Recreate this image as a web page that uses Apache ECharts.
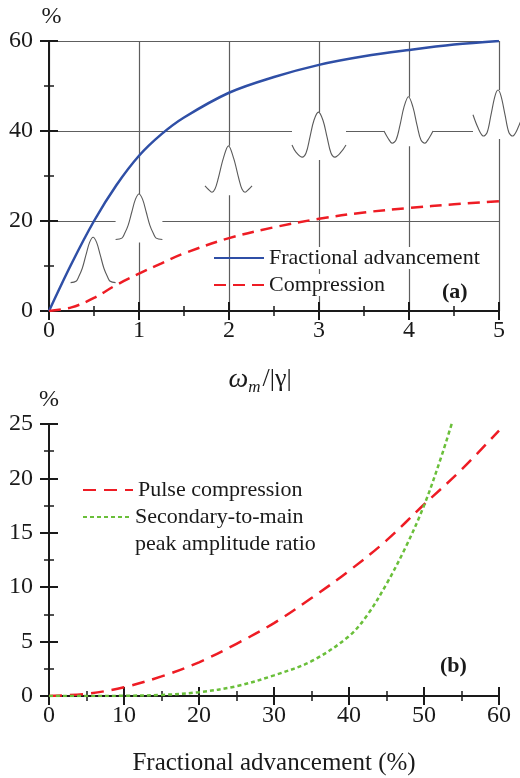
<!DOCTYPE html>
<html>
<head>
<meta charset="utf-8">
<script src="https://cdn.jsdelivr.net/npm/echarts@6/dist/echarts.min.js"></script>
<style>html,body{margin:0;padding:0;background:#fff}#c{width:520px;height:778px}</style>
</head>
<body>
<div id="c"></div>
<script>
// ---- Panel (a) data ----
const xTop = [0, 0.25, 0.5, 0.75, 1, 1.25, 1.5, 2, 2.5, 3, 3.5, 4, 4.5, 5];
const fracAdvance = [0, 10.5, 20, 28, 34.5, 39.3, 43, 48.5, 52, 54.7, 56.6, 58, 59.2, 60];
const compressionA = [0, 0.8, 2.9, 5.8, 8.3, 10.6, 12.8, 16.2, 18.6, 20.5, 21.9, 22.9, 23.7, 24.4];
const xTicksA = [0, 1, 2, 3, 4, 5];
const yTicksA = [0, 20, 40, 60];

// pulse-shape insets, [x, y] in panel (a) data units
const pulse1 = [[0.24,6.3],[0.30,6.6],[0.33,7.6],[0.37,9.5],[0.41,12.4],[0.45,15.2],[0.49,16.4],[0.53,15.2],[0.57,12.4],[0.61,9.5],[0.65,7.6],[0.68,6.6],[0.74,6.3]];
const pulse2 = [[0.74,15.9],[0.81,16.2],[0.84,17.2],[0.88,19.1],[0.92,22.0],[0.96,24.8],[1.0,26.0],[1.04,24.8],[1.08,22.0],[1.12,19.1],[1.16,17.2],[1.19,16.2],[1.26,15.9]];
const pulse3 = [[1.733,27.8],[1.772,27.0],[1.811,26.4],[1.844,27.1],[1.881,29.5],[1.937,33.9],[1.994,36.7],[2.052,33.9],[2.108,29.5],[2.144,27.1],[2.178,26.4],[2.217,27.0],[2.256,27.8]];
const pulse4 = [[2.700,36.9],[2.744,35.3],[2.811,34.2],[2.856,35.1],[2.900,38.7],[2.944,42.4],[2.994,44.2],[3.044,42.4],[3.089,38.7],[3.133,35.1],[3.178,34.2],[3.244,35.3],[3.300,36.9]];
const pulse5 = [[3.722,40.0],[3.767,38.4],[3.811,37.3],[3.856,38.0],[3.900,41.3],[3.944,45.3],[3.994,47.6],[4.044,45.3],[4.089,41.3],[4.133,38.0],[4.178,37.3],[4.222,38.4],[4.267,40.0]];
const pulse6 = [[4.711,43.6],[4.767,40.7],[4.822,38.9],[4.867,39.6],[4.911,43.6],[4.956,47.8],[4.989,49.1],[5.022,47.8],[5.067,43.6],[5.111,39.6],[5.156,38.9],[5.211,40.7],[5.267,43.6]];
const pulses = [pulse1, pulse2, pulse3, pulse4, pulse5, pulse6];

// ---- Panel (b) data ----
const xB = [0, 5, 10, 15, 20, 25, 30, 35, 40, 45, 50, 55, 60];
const pulseCompression = [0, 0.2, 0.8, 1.8, 3.1, 4.8, 6.7, 9.0, 11.5, 14.3, 17.6, 20.8, 24.4];
const xRatio = [0, 5, 10, 15, 20, 25, 30, 35, 40, 42.5, 45, 47.5, 50, 52.5, 55];
const peakRatio = [0, 0, 0.02, 0.1, 0.35, 0.9, 1.9, 3.2, 5.5, 7.5, 10.3, 13.6, 17.5, 22.4, 28];
const xTicksB = [0, 10, 20, 30, 40, 50, 60];
const yTicksB = [0, 5, 10, 15, 20, 25];

const FONT = 'Liberation Serif';
const INK = '#1a1a1a';
const BLUE = '#2f4fa6';
const RED = '#ee1c24';
const GREEN = '#6abf3a';

function zip(xs, ys) { return xs.map((x, i) => [x, ys[i]]); }

function baseAxis(extra) {
  return Object.assign({
    type: 'value',
    axisLine: { show: true, lineStyle: { color: INK, width: 2 } },
    axisTick: { show: true, inside: true, length: 9, lineStyle: { color: INK, width: 2 } },
    minorTick: { show: true, splitNumber: 2, length: 5, lineStyle: { color: INK, width: 1.5 } },
    axisLabel: { show: false },
    splitLine: { show: false }
  }, extra);
}
const labelStyle = { show: true, fontFamily: FONT, fontSize: 24, color: INK };
const gridLine = { show: true, lineStyle: { color: '#5e5e5e', width: 1.2 } };
const legendCommon = { orient: 'vertical', itemWidth: 50, itemHeight: 14, padding: 0, selectedMode: false,
  itemStyle: { opacity: 0 } };

const chart = echarts.init(document.getElementById('c'), null, { renderer: 'canvas' });

chart.setOption({
  animation: false,
  backgroundColor: '#fff',
  grid: [
    { left: 49, top: 41, width: 450, height: 270 },
    { left: 49, top: 424, width: 450, height: 272 }
  ],
  xAxis: [
    baseAxis({ gridIndex: 0, position: 'bottom', min: xTicksA[0], max: xTicksA[xTicksA.length - 1], interval: 1,
      axisLabel: Object.assign({}, labelStyle, { margin: 8 }), splitLine: gridLine,
      name: '{w|ω}{s|m}{n|/|γ|}', nameLocation: 'middle', nameGap: 52,
      nameTextStyle: { fontFamily: FONT, color: INK, fontSize: 26, padding: [0, 28, 0, 0],
        rich: { w: { fontFamily: FONT, fontStyle: 'italic', fontSize: 28, color: INK },
                s: { fontFamily: FONT, fontStyle: 'italic', fontSize: 17, color: INK, padding: [16, 2, 0, 0] },
                n: { fontFamily: FONT, fontSize: 26, color: INK } } } }),
    baseAxis({ gridIndex: 0, position: 'top', min: 0, max: 5, interval: 1 }),
    baseAxis({ gridIndex: 1, position: 'bottom', min: xTicksB[0], max: xTicksB[xTicksB.length - 1], interval: 10,
      axisLabel: Object.assign({}, labelStyle, { margin: 8 }),
      name: 'Fractional advancement (%)', nameLocation: 'middle', nameGap: 55,
      nameTextStyle: { fontFamily: FONT, color: INK, fontSize: 25 } }),
    baseAxis({ gridIndex: 1, position: 'top', min: 0, max: 60, interval: 10 })
  ],
  yAxis: [
    baseAxis({ gridIndex: 0, position: 'left', min: yTicksA[0], max: yTicksA[yTicksA.length - 1], interval: 20,
      axisLabel: Object.assign({}, labelStyle, { margin: 16 }), splitLine: gridLine,
      name: '%', nameLocation: 'end', nameGap: 12, nameTextStyle: { fontFamily: FONT, fontSize: 24, color: INK, padding: [0, 0, 0, 5] } }),
    baseAxis({ gridIndex: 0, position: 'right', min: 0, max: 60, interval: 20 }),
    baseAxis({ gridIndex: 1, position: 'left', min: yTicksB[0], max: yTicksB[yTicksB.length - 1], interval: 5,
      axisLabel: Object.assign({}, labelStyle, { margin: 16 }),
      name: '%', nameLocation: 'end', nameGap: 12, nameTextStyle: { fontFamily: FONT, fontSize: 24, color: INK } }),
    baseAxis({ gridIndex: 1, position: 'right', min: 0, max: 25, interval: 5 })
  ],
  legend: [
    Object.assign({}, legendCommon, { data: ['Fractional advancement', 'Compression'], left: 213, top: 247, itemGap: 5,
      textStyle: { fontFamily: FONT, fontSize: 22, color: INK, lineHeight: 22, backgroundColor: '#fff' } }),
    Object.assign({}, legendCommon, { data: ['Pulse compression'], left: 82, top: 479,
      textStyle: { fontFamily: FONT, fontSize: 22, color: INK, lineHeight: 22 } }),
    Object.assign({}, legendCommon, { data: ['Secondary-to-main peak amplitude ratio'], left: 82, top: 517 - 40.5,
      itemWidth: 47,
      formatter: function () { return ' \nSecondary-to-main\npeak amplitude ratio'; },
      textStyle: { fontFamily: FONT, fontSize: 22, color: INK, lineHeight: 27 } })
  ],
  graphic: [
    { type: 'text', left: 442, top: 281, style: { text: '(a)', fontFamily: FONT, fontSize: 22, fontWeight: 'bold', fill: INK } },
    { type: 'text', left: 440, top: 655, style: { text: '(b)', fontFamily: FONT, fontSize: 22, fontWeight: 'bold', fill: INK } }
  ],
  series: [
    { type: 'custom', name: 'pulses', xAxisIndex: 0, yAxisIndex: 0, z: 2, clip: false,
      data: pulses.map((p, i) => [p[6][0], p[6][1], i]),
      encode: { x: 0, y: 1 },
      renderItem: function (params, api) {
        const pts = pulses[api.value(2)].map(d => api.coord(d));
        let minx = Infinity, maxx = -Infinity, miny = Infinity, maxy = -Infinity;
        pts.forEach(p => { minx = Math.min(minx, p[0]); maxx = Math.max(maxx, p[0]); miny = Math.min(miny, p[1]); maxy = Math.max(maxy, p[1]); });
        return { type: 'group', children: [
          { type: 'rect', shape: { x: minx, y: miny, width: maxx - minx, height: maxy - miny + 3 }, style: { fill: '#fff' } },
          { type: 'polyline', shape: { points: pts, smooth: 0.35 }, style: { stroke: '#5a5a5a', lineWidth: 1.1, fill: null } }
        ] };
      }
    },
    { type: 'line', name: 'Fractional advancement', xAxisIndex: 0, yAxisIndex: 0, z: 3,
      data: zip(xTop, fracAdvance), smooth: 0.35, symbol: 'none',
      lineStyle: { color: BLUE, width: 2.5 }, itemStyle: { color: BLUE } },
    { type: 'line', name: 'Compression', xAxisIndex: 0, yAxisIndex: 0, z: 3,
      data: zip(xTop, compressionA), smooth: 0.35, symbol: 'none',
      lineStyle: { color: RED, width: 2.5, type: [12, 7] }, itemStyle: { color: RED } },
    { type: 'line', name: 'Pulse compression', xAxisIndex: 2, yAxisIndex: 2, z: 3,
      data: zip(xB, pulseCompression), smooth: 0.35, symbol: 'none',
      lineStyle: { color: RED, width: 2.5, type: [13, 8] }, itemStyle: { color: RED } },
    { type: 'line', name: 'Secondary-to-main peak amplitude ratio', xAxisIndex: 2, yAxisIndex: 2, z: 3,
      data: zip(xRatio, peakRatio), smooth: 0.35, symbol: 'none',
      lineStyle: { color: GREEN, width: 2.5, type: [4, 3] }, itemStyle: { color: GREEN } }
  ]
});
</script>
</body>
</html>
